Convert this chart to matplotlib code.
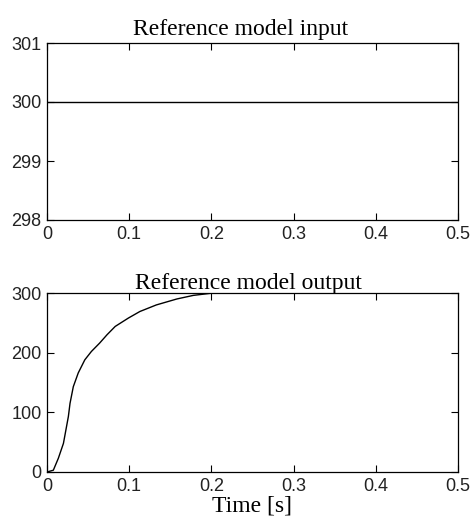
import numpy as np
import matplotlib
matplotlib.use('Agg')
import matplotlib.pyplot as plt

# input signal (constant reference)
t_in = [0.0, 0.5]
r_in = [300.0, 300.0]

# reference model output
t_out = [0.0, 0.0077, 0.0138, 0.020, 0.026, 0.028, 0.032, 0.038, 0.046, 0.054,
         0.064, 0.073, 0.083, 0.099, 0.113, 0.133, 0.158, 0.178, 0.202, 0.5]
y_out = [0, 3, 23, 48, 93, 115, 143, 166, 188, 202,
         216, 230, 244, 258, 269, 280, 290, 296, 300, 300]

xticks = [0, 0.1, 0.2, 0.3, 0.4, 0.5]
xticklabels = ['0', '0.1', '0.2', '0.3', '0.4', '0.5']

W, H = 474, 523
fig = plt.figure(figsize=(W / 100, H / 100), dpi=100)

tick_font = 'Liberation Sans'
text_font = 'Liberation Serif'


def style(ax):
    ax.set_xlim(0, 0.5)
    ax.set_xticks(xticks)
    ax.set_xticklabels(xticklabels)
    ax.tick_params(direction='in', top=True, right=True, length=5, width=0.8,
                   labelsize=13, pad=4, colors='black')
    for lab in ax.get_xticklabels() + ax.get_yticklabels():
        lab.set_fontfamily(tick_font)
        lab.set_color('#222222')
    for s in ax.spines.values():
        s.set_linewidth(0.9)


ax1 = fig.add_axes([47 / W, 1 - 220 / H, 411 / W, 177 / H])
ax1.plot(t_in, r_in, color='black', lw=1.0)
ax1.set_ylim(298, 301)
ax1.set_yticks([298, 299, 300, 301])
style(ax1)
ax1.set_title('Reference model input', fontfamily=text_font, fontsize=17,
              pad=6, x=0.47)

ax2 = fig.add_axes([47 / W, 1 - 472 / H, 411 / W, 179 / H])
ax2.plot(t_out, y_out, color='black', lw=1.0)
ax2.set_ylim(0, 300)
ax2.set_yticks([0, 100, 200, 300])
style(ax2)
ax2.set_title('Reference model output', fontfamily=text_font, fontsize=17,
              pad=3, x=0.49)
ax2.set_xlabel('Time [s]', fontfamily=text_font, fontsize=17, labelpad=1)

fig.savefig('out.png', dpi=100)
